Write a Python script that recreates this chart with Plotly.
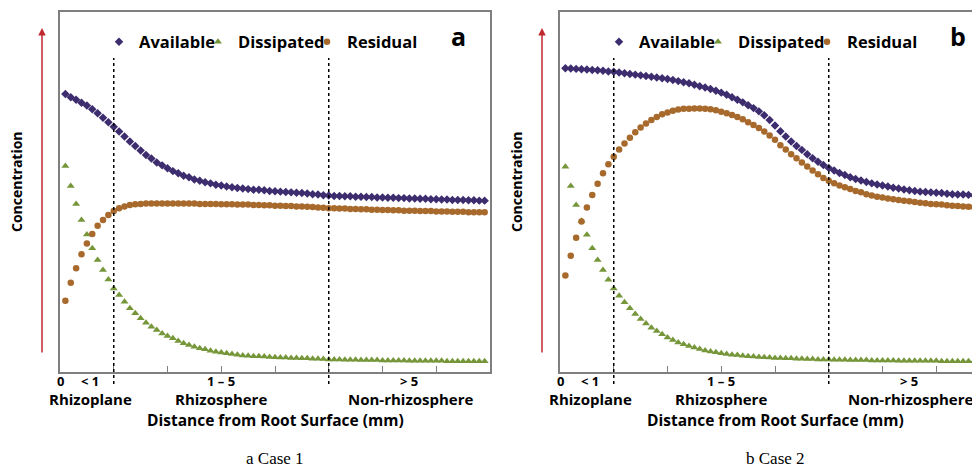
import plotly.graph_objects as go

# page body has an 8px margin: the figure is drawn at (8, 8) in the window
OFF = 8
W, H = 980 - OFF, 469 - OFF

# distance from root surface (mm, schematic units)
x_mm = [0.1, 0.2, 0.3, 0.4, 0.5, 0.6, 0.7, 0.8, 0.9, 1.0,
        1.1, 1.2, 1.3, 1.4, 1.5, 1.6, 1.7, 1.8, 1.9, 2.0,
        2.1, 2.2, 2.3, 2.4, 2.5, 2.6, 2.7, 2.8, 2.9, 3.0,
        3.1, 3.2, 3.3, 3.4, 3.5, 3.6, 3.7, 3.8, 3.9, 4.0,
        4.1, 4.2, 4.3, 4.4, 4.5, 4.6, 4.7, 4.8, 4.9, 5.0,
        5.1, 5.2, 5.3, 5.4, 5.5, 5.6, 5.7, 5.8, 5.9, 6.0,
        6.1, 6.2, 6.3, 6.4, 6.5, 6.6, 6.7, 6.8, 6.9, 7.0,
        7.1, 7.2, 7.3, 7.4, 7.5, 7.6, 7.7, 7.8, 7.9]

# Case 1
avail_a = [77.2, 76.3, 75.6, 74.8, 74.0, 73.0, 71.9, 70.6, 69.4, 68.1,
           66.8, 65.4, 64.0, 62.8, 61.5, 60.3, 59.3, 58.2, 57.4, 56.6,
           55.8, 55.2, 54.5, 54.1, 53.5, 53.1, 52.7, 52.4, 52.0, 51.8,
           51.5, 51.3, 51.1, 51.0, 50.8, 50.6, 50.6, 50.5, 50.3, 50.2,
           50.1, 50.0, 49.9, 49.8, 49.7, 49.6, 49.4, 49.3, 49.1, 49.0,
           48.9, 48.9, 48.8, 48.8, 48.7, 48.7, 48.6, 48.6, 48.5, 48.5,
           48.4, 48.4, 48.3, 48.3, 48.2, 48.2, 48.1, 48.1, 48.0, 48.0,
           47.9, 47.9, 47.8, 47.8, 47.8, 47.7, 47.7, 47.6, 47.6]
diss_a = [57.2, 51.7, 46.7, 42.2, 38.2, 34.4, 31.1, 28.3, 25.7, 23.2,
          21.4, 19.5, 17.7, 16.3, 14.9, 13.7, 12.6, 11.7, 10.7, 10.0,
          9.4, 8.6, 8.0, 7.5, 7.0, 6.6, 6.3, 5.9, 5.6, 5.4,
          5.2, 5.0, 4.8, 4.6, 4.5, 4.4, 4.4, 4.3, 4.2, 4.1,
          4.0, 4.0, 3.9, 3.9, 3.8, 3.8, 3.7, 3.7, 3.6, 3.5,
          3.5, 3.5, 3.4, 3.4, 3.4, 3.3, 3.3, 3.3, 3.3, 3.2,
          3.2, 3.2, 3.2, 3.2, 3.1, 3.1, 3.1, 3.1, 3.1, 3.1,
          3.1, 3.0, 3.0, 3.0, 3.0, 3.0, 3.0, 3.0, 3.0]
resid_a = [19.8, 24.8, 28.8, 32.7, 35.7, 38.3, 40.6, 42.2, 43.6, 44.7,
           45.5, 46.0, 46.4, 46.6, 46.7, 46.8, 46.8, 46.8, 46.8, 46.8,
           46.8, 46.8, 46.8, 46.8, 46.8, 46.7, 46.7, 46.7, 46.7, 46.6,
           46.6, 46.6, 46.5, 46.5, 46.5, 46.4, 46.4, 46.3, 46.3, 46.2,
           46.2, 46.1, 46.1, 46.0, 46.0, 45.9, 45.8, 45.7, 45.6, 45.5,
           45.5, 45.4, 45.4, 45.3, 45.3, 45.2, 45.2, 45.1, 45.1, 45.0,
           45.0, 44.9, 44.9, 44.8, 44.8, 44.8, 44.7, 44.7, 44.7, 44.6,
           44.6, 44.6, 44.5, 44.5, 44.5, 44.4, 44.4, 44.4, 44.4]

# Case 2
avail_b = [84.4, 84.3, 84.2, 84.1, 84.0, 83.9, 83.8, 83.7, 83.5, 83.4,
           83.2, 83.0, 82.8, 82.6, 82.4, 82.2, 82.0, 81.8, 81.6, 81.4,
           81.1, 80.8, 80.5, 80.2, 79.8, 79.4, 79.0, 78.6, 78.1, 77.6,
           77.0, 76.3, 75.6, 74.9, 74.1, 73.3, 72.4, 71.3, 70.0, 68.5,
           66.9, 65.4, 64.0, 62.8, 61.7, 60.5, 59.4, 58.4, 57.5, 56.7,
           56.0, 55.3, 54.7, 54.1, 53.6, 53.2, 52.8, 52.4, 52.1, 51.8,
           51.5, 51.2, 51.0, 50.7, 50.5, 50.3, 50.1, 50.0, 49.9, 49.8,
           49.7, 49.5, 49.4, 49.3, 49.3, 49.2, 49.1, 49.0, 48.9]
diss_b = [57.0, 51.7, 46.4, 42.0, 38.1, 34.4, 31.1, 28.3, 25.6, 23.2,
          21.2, 19.4, 17.7, 16.1, 14.7, 13.5, 12.3, 11.4, 10.5, 9.6,
          8.9, 8.2, 7.7, 7.2, 6.8, 6.4, 6.0, 5.7, 5.5, 5.2,
          5.0, 4.8, 4.7, 4.5, 4.4, 4.3, 4.2, 4.1, 4.0, 3.9,
          3.9, 3.8, 3.8, 3.7, 3.7, 3.6, 3.6, 3.5, 3.5, 3.5,
          3.4, 3.4, 3.4, 3.3, 3.3, 3.3, 3.3, 3.2, 3.2, 3.2,
          3.2, 3.2, 3.1, 3.1, 3.1, 3.1, 3.1, 3.1, 3.1, 3.1,
          3.0, 3.0, 3.0, 3.0, 3.0, 3.0, 3.0, 3.0, 3.0]
resid_b = [26.8, 32.3, 37.3, 41.8, 45.7, 49.2, 52.3, 55.2, 57.7, 59.8,
           61.8, 63.5, 65.1, 66.6, 67.9, 69.0, 70.0, 70.8, 71.6, 72.1,
           72.6, 72.9, 73.1, 73.1, 73.2, 73.2, 73.1, 73.0, 72.7, 72.3,
           71.9, 71.4, 70.8, 70.2, 69.4, 68.6, 67.8, 66.8, 65.7, 64.5,
           63.0, 61.8, 60.5, 59.4, 58.2, 57.1, 56.0, 54.9, 53.9, 53.1,
           52.4, 51.8, 51.3, 50.8, 50.3, 49.9, 49.4, 49.0, 48.7, 48.5,
           48.2, 48.0, 47.8, 47.6, 47.4, 47.2, 47.0, 46.9, 46.7, 46.6,
           46.5, 46.3, 46.2, 46.1, 46.0, 45.9, 45.8, 45.7, 45.7]

series_names = ["Available", "Dissipated", "Residual"]
zone_bounds = [1, 5]
range_labels = ["0", "< 1", "1 \u2013 5", "> 5"]
range_label_x = [0, 0.55, 3.0, 6.5]
zone_names = ["Rhizoplane", "Rhizosphere", "Non-rhizosphere"]
zone_name_x = [0.57, 3.0, 6.53]
x_ticks = [0, 1, 2, 3, 4, 5, 6, 7, 8]
panel_letters = ["a", "b"]
captions = ["a Case 1", "b Case 2"]

C_AV = "#3d2c6e"
C_DI = "#76963a"
C_RE = "#a86a2c"
GRAY = "#7f7f7f"
RED = "#c0282e"
FONT = "Open Sans"


def px(x):
    """window pixel x -> paper fraction"""
    return (x - OFF) / W


def py(y):
    """window pixel y (from top) -> paper fraction"""
    return (H - (y - OFF)) / H


styles = [
    dict(symbol="diamond", size=6.5, color=C_AV, lw=54),
    dict(symbol="triangle-up", size=7, color=C_DI, lw=64),
    dict(symbol="circle", size=6.5, color=C_RE, lw=70),
]

fig = go.Figure()
panels = [
    ("x", "y", "legend", [avail_a, diss_a, resid_a]),
    ("x2", "y2", "legend2", [avail_b, diss_b, resid_b]),
]
for xa, ya, lg, data in panels:
    for name, vals, st in zip(series_names, data, styles):
        fig.add_trace(go.Scatter(
            x=x_mm, y=vals, mode="markers", name=name, xaxis=xa, yaxis=ya,
            legend=lg, legendwidth=st["lw"],
            marker=dict(symbol=st["symbol"], size=st["size"], color=st["color"],
                        line=dict(width=0)),
            cliponaxis=True,
        ))

ydom = [py(372), py(12)]
axis_common = dict(showgrid=False, zeroline=False, showline=True, linecolor=GRAY,
                   linewidth=1.5)
legend_font = dict(family=FONT, size=16.5, color="black", weight="bold")
fig.update_layout(
    width=W, height=H, margin=dict(l=0, r=0, t=0, b=0),
    paper_bgcolor="white", plot_bgcolor="white",
    xaxis=dict(domain=[px(60), px(490)], range=[0, 8], mirror=True,
               tickvals=x_ticks, ticks="inside", ticklen=6, tickcolor=GRAY,
               tickwidth=1.2, showticklabels=False, **axis_common),
    yaxis=dict(domain=ydom, range=[0, 100], mirror=True, showticklabels=False,
               ticks="", **axis_common),
    xaxis2=dict(domain=[px(560), 1.0], range=[0, 420 / 53.75], mirror=True,
                tickvals=x_ticks, ticks="inside", ticklen=6, tickcolor=GRAY,
                tickwidth=1.2, showticklabels=False, anchor="y2", **axis_common),
    yaxis2=dict(domain=ydom, range=[0, 100], mirror=False, showticklabels=False,
                ticks="", anchor="x2", **axis_common),
    legend=dict(orientation="h", x=px(99), xanchor="left", y=py(42), yanchor="middle",
                font=legend_font, bgcolor="rgba(0,0,0,0)", itemwidth=30),
    legend2=dict(orientation="h", x=px(599), xanchor="left", y=py(42), yanchor="middle",
                 font=legend_font, bgcolor="rgba(0,0,0,0)", itemwidth=30),
    showlegend=True,
)

shapes = []
annotations = []
for i, (xa, x0px) in enumerate([("x", 60), ("x2", 560)]):
    for b in zone_bounds:
        shapes.append(dict(type="line", xref=xa, yref="paper", x0=b, x1=b,
                           y0=py(384), y1=py(58),
                           line=dict(color="black", width=1.5, dash="dot")))
    for t, xv in zip(range_labels, range_label_x):
        annotations.append(dict(text=t, xref=xa, yref="paper", x=xv, y=py(381),
                                showarrow=False, xanchor="center", yanchor="middle",
                                font=dict(family=FONT, size=13, color="black", weight="bold")))
    for t, xv in zip(zone_names, zone_name_x):
        annotations.append(dict(text=t, xref=xa, yref="paper", x=xv, y=py(399),
                                showarrow=False, xanchor="center", yanchor="middle",
                                font=dict(family=FONT, size=15, color="black", weight="bold")))
    annotations.append(dict(text="Distance from Root Surface (mm)", xref=xa, yref="paper",
                            x=4.0, y=py(420), showarrow=False, xanchor="center",
                            yanchor="middle",
                            font=dict(family=FONT, size=15.5, color="black", weight="bold")))
    # concentration arrow and label
    annotations.append(dict(text="", xref="paper", yref="paper", x=px(x0px - 18), y=py(28),
                            ax=0, ay=326, axref="pixel", ayref="pixel", showarrow=True,
                            arrowhead=2, arrowsize=1, arrowwidth=1.5, arrowcolor=RED))
    annotations.append(dict(text="Concentration", xref="paper", yref="paper",
                            x=px(x0px - 43), y=py(182), textangle=-90, showarrow=False,
                            xanchor="center", yanchor="middle",
                            font=dict(family=FONT, size=14, color="black", weight="bold")))
    annotations.append(dict(text=panel_letters[i], xref="paper", yref="paper",
                            x=px(x0px + 398), y=py(36), showarrow=False,
                            xanchor="center", yanchor="middle",
                            font=dict(family=FONT, size=25, color="black", weight="bold")))
    annotations.append(dict(text=captions[i], xref=xa, yref="paper", x=4.0, y=py(458),
                            showarrow=False, xanchor="center", yanchor="middle",
                            font=dict(family="Liberation Serif", size=17, color="black")))

fig.update_layout(shapes=shapes, annotations=annotations)
fig.write_html("out.html")
